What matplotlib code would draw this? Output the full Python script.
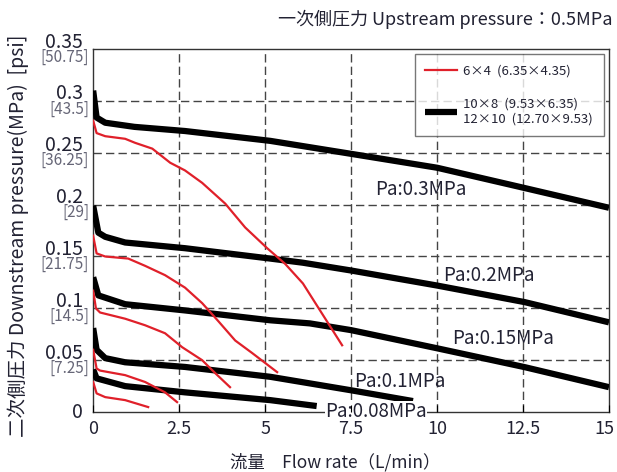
import numpy as np
import matplotlib
matplotlib.use('Agg')
import matplotlib.pyplot as plt
import matplotlib.transforms as mtransforms

plt.rcParams['font.family'] = ['Noto Sans CJK JP', 'DejaVu Sans']

# 10x8 / 12x10 tubes (thick black)
blk_03_x = [0.0, 0.1, 0.35, 1.2, 2.67, 5.15, 7.5, 10.0, 12.55, 15.0]
blk_03_y = [0.310, 0.284, 0.279, 0.275, 0.271, 0.2615, 0.249, 0.2356, 0.216, 0.197]
blk_02_x = [0.0, 0.15, 0.35, 0.93, 2.67, 5.15, 6.1, 7.5, 10.0, 12.55, 15.0]
blk_02_y = [0.199, 0.173, 0.169, 0.1635, 0.158, 0.148, 0.144, 0.1365, 0.122, 0.106, 0.0865]
blk_015_x = [0.0, 0.15, 0.93, 2.67, 5.15, 6.3, 7.5, 10.0, 12.55, 15.0]
blk_015_y = [0.130, 0.1125, 0.104, 0.098, 0.0885, 0.0855, 0.079, 0.0615, 0.0433, 0.024]
blk_01_x = [0.0, 0.1, 0.35, 0.93, 2.67, 5.15, 7.5, 9.3]
blk_01_y = [0.081, 0.060, 0.052, 0.048, 0.0435, 0.034, 0.021, 0.0106]
blk_008_x = [0.0, 0.1, 0.93, 2.67, 5.15, 6.5]
blk_008_y = [0.041, 0.0325, 0.025, 0.019, 0.0115, 0.0058]

# 6x4 tube (thin red)
red_03_x = [0.0, 0.1, 0.35, 0.93, 1.22, 1.72, 2.24, 2.67, 3.17, 3.84, 4.42, 5.06, 5.58, 6.1, 7.24]
red_03_y = [0.281, 0.269, 0.266, 0.2635, 0.2596, 0.254, 0.2404, 0.233, 0.221, 0.201, 0.178, 0.158, 0.143, 0.124, 0.0644]
red_02_x = [0.0, 0.1, 0.35, 1.02, 1.51, 2.09, 2.67, 3.17, 3.63, 4.13, 4.62, 5.35]
red_02_y = [0.170, 0.153, 0.150, 0.148, 0.141, 0.132, 0.120, 0.105, 0.088, 0.069, 0.057, 0.0385]
red_015_x = [0.0, 0.08, 0.2, 0.93, 1.51, 2.09, 2.59, 3.17, 3.55, 3.98]
red_015_y = [0.117, 0.100, 0.096, 0.090, 0.0837, 0.076, 0.0625, 0.050, 0.0375, 0.024]
red_01_x = [0.0, 0.1, 0.2, 0.93, 1.51, 2.09, 2.44]
red_01_y = [0.060, 0.042, 0.040, 0.0356, 0.029, 0.019, 0.0096]
red_008_x = [0.0, 0.1, 0.35, 0.93, 1.6]
red_008_y = [0.029, 0.018, 0.0144, 0.0115, 0.0048]

mpa_ticks = [0, 0.05, 0.1, 0.15, 0.2, 0.25, 0.3, 0.35]
mpa_labels = ['0', '0.05', '0.1', '0.15', '0.2', '0.25', '0.3', '0.35']
psi_labels = ['', '[7.25]', '[14.5]', '[21.75]', '[29]', '[36.25]', '[43.5]', '[50.75]']
x_ticks = [0, 2.5, 5, 7.5, 10, 12.5, 15]
x_labels = ['0', '2.5', '5', '7.5', '10', '12.5', '15']

pa_labels = ['Pa:0.3MPa', 'Pa:0.2MPa', 'Pa:0.15MPa', 'Pa:0.1MPa', 'Pa:0.08MPa']
pa_pos = [(8.2, 0.215), (10.17, 0.1317), (10.44, 0.071), (7.6, 0.029), (6.74, 0.001)]

txt = '#222233'

fig = plt.figure(figsize=(6.17, 4.72), dpi=100)
ax = fig.add_axes([0.151, 0.127, 0.836, 0.769])

# gridlines
for xv in x_ticks[1:-1]:
    ax.axvline(xv, color='#444444', lw=1, ls=(0, (6, 3)), zorder=1)
for yv in mpa_ticks[1:-1]:
    ax.axhline(yv, color='#444444', lw=1, ls=(0, (6, 3)), zorder=1)

blk = [(blk_03_x, blk_03_y), (blk_02_x, blk_02_y), (blk_015_x, blk_015_y),
       (blk_01_x, blk_01_y), (blk_008_x, blk_008_y)]
red = [(red_03_x, red_03_y), (red_02_x, red_02_y), (red_015_x, red_015_y),
       (red_01_x, red_01_y), (red_008_x, red_008_y)]

for i, (xs, ys) in enumerate(blk):
    ax.plot(xs, ys, color='black', lw=4.5, solid_capstyle='butt', zorder=3,
            label='10×8  (9.53×6.35)\n12×10  (12.70×9.53)' if i == 0 else None)
for i, (xs, ys) in enumerate(red):
    ax.plot(xs, ys, color='#e0202a', lw=1.6, zorder=4,
            label='6×4  (6.35×4.35)' if i == 0 else None)

for lab, (px, py) in zip(pa_labels, pa_pos):
    kw = {}
    if lab == 'Pa:0.08MPa':
        kw['bbox'] = dict(facecolor='white', edgecolor='none', pad=0)
        kw['clip_on'] = False
    ax.text(px, py, lab, fontsize=13.5, color=txt, ha='left', va='center', zorder=5, **kw)

ax.set_xlim(0, 15)
ax.set_ylim(0, 0.35)
ax.set_xticks(x_ticks)
ax.set_xticklabels(x_labels, fontsize=13, color=txt)
ax.tick_params(axis='x', direction='in', length=5, pad=6)
ax.xaxis.set_zorder(6)
last = ax.get_xticklabels()[-1]
last.set_horizontalalignment('right')
last.set_transform(last.get_transform() + mtransforms.ScaledTranslation(0.05, 0, fig.dpi_scale_trans))
ax.set_yticks(mpa_ticks)
ax.set_yticklabels([])
ax.tick_params(axis='y', length=0)
for s in ax.spines.values():
    s.set_linewidth(1)
    s.set_color('#333333')

# two-line y tick labels: MPa above, psi below
trans = mtransforms.blended_transform_factory(ax.transAxes, ax.transData)
for v, m, p in zip(mpa_ticks, mpa_labels, psi_labels):
    if p == '':
        ax.text(0, v, m, transform=trans + mtransforms.ScaledTranslation(-0.10, 0, fig.dpi_scale_trans),
                fontsize=14, color=txt, ha='right', va='center')
    else:
        ax.text(0, v, m, transform=trans + mtransforms.ScaledTranslation(-0.10, 0.07, fig.dpi_scale_trans),
                fontsize=14, color=txt, ha='right', va='center')
        ax.text(0, v, p, transform=trans + mtransforms.ScaledTranslation(-0.04, -0.08, fig.dpi_scale_trans),
                fontsize=11, color='#666677', ha='right', va='center')

h, l = ax.get_legend_handles_labels()
leg = ax.legend(h[::-1], l[::-1], loc='upper right', fontsize=9.5, frameon=True,
                fancybox=False, edgecolor='#555555', handlelength=2.4,
                handletextpad=0.5, borderpad=0.8, borderaxespad=0.4,
                labelspacing=1.5)
leg.get_frame().set_linewidth(1)
for t in leg.get_texts():
    t.set_color(txt)

fig.text(0.992, 0.958, '一次側圧力 Upstream pressure：0.5MPa', fontsize=13,
         color=txt, ha='right', va='center')
fig.text(0.029, 0.5, '二次側圧力 Downstream pressure(MPa)  [psi]', fontsize=14,
         color=txt, ha='center', va='center', rotation=90)
fig.text(0.544, 0.021, '流量　Flow rate（L/min）', fontsize=12.5, color=txt,
         ha='center', va='center')

fig.savefig('out.png', dpi=100)
